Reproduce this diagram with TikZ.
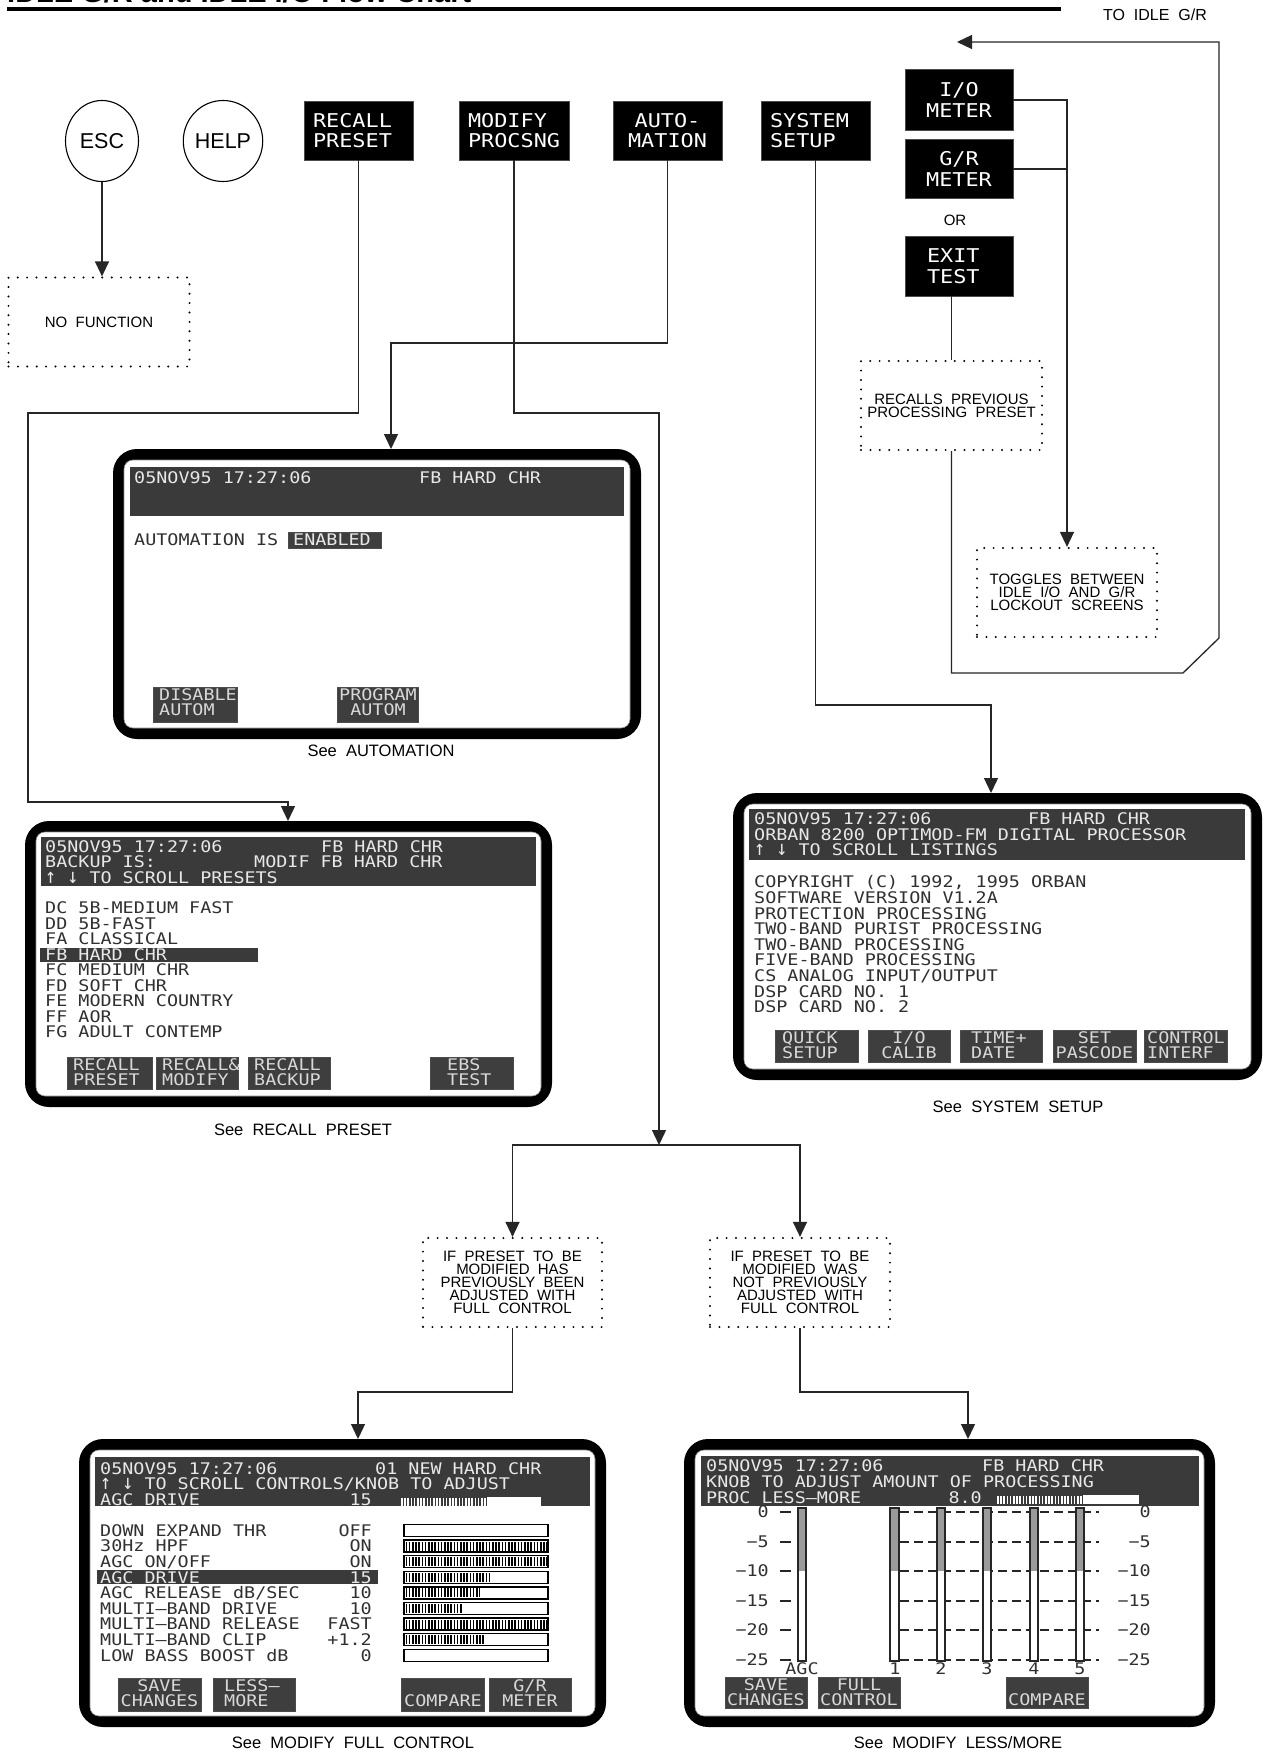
\documentclass[tikz,border=0pt]{standalone}
\usepackage{graphicx}
\usepackage{fontspec}
\setmainfont{Liberation Sans}
\newfontfamily\lcdfont[FakeStretch=1.15]{DejaVu Sans Mono}
\newcommand\lcd{\lcdfont\fontsize{16}{15.6}\selectfont}
\newcommand\lcdbig{\lcdfont\fontsize{19}{20.5}\selectfont}
\newcommand\lblfont{\fontsize{16.5}{19}\selectfont}
\newcommand\dotfont{\fontsize{15}{13}\selectfont}
\usetikzlibrary{arrows.meta,shapes.geometric}
\definecolor{hdrgray}{HTML}{3A3A3A}
\definecolor{btngray}{HTML}{3E3E3E}
\definecolor{lcdlight}{HTML}{E8E8E8}
\definecolor{btntext}{HTML}{D8D8D8}
\definecolor{lcddark}{HTML}{303030}
\definecolor{metergray}{HTML}{9A9A9A}
\newcounter{txtn}
\tikzset{
  conn/.style={draw=black!85, line width=1.3pt},
  arr/.style={conn, -{Triangle[length=15pt,width=14pt]}},
  dotbox/.style={draw=black, line width=2.2pt, dash pattern=on 0pt off 9.4pt, line cap=round, inner sep=0pt, align=center, font=\dotfont},
  keybox/.style={rectangle, fill=black, draw=black!70, line width=0.8pt, inner xsep=9pt, inner ysep=0pt, text=white, font=\lcdbig},
  lcdt/.style={inner sep=0pt, text height=11.7pt, text depth=0pt, font=\lcd, anchor=west},
  btnbox/.style={fill=btngray, draw=black!70, line width=0.8pt},
  scrbox/.style={rectangle, fill=black, rounded corners=24pt, inner sep=0pt, draw=none},
  lbl/.style={font=\lblfont, inner sep=0pt},
  stripes/.style={line width=9pt, dash pattern=on 1.6pt off 1.6pt, draw=black},
  dashline/.style={draw=black!85, line width=1.3pt, dash pattern=on 9pt off 5pt},
  tickline/.style={draw=black!85, line width=1.3pt},
}
\newcommand\scrdark[3]{\stepcounter{txtn}\node[lcdt,text=lcddark] (t\arabic{txtn}) at (#1,#2) {#3};}
\newcommand\scrlight[3]{\stepcounter{txtn}\node[lcdt,text=lcdlight] (t\arabic{txtn}) at (#1,#2) {#3};}
\newcommand\scrval[3]{\stepcounter{txtn}\node[lcdt,anchor=east,text=lcddark] (t\arabic{txtn}) at (#1,#2) {#3};}
\newcommand\scrvallight[3]{\stepcounter{txtn}\node[lcdt,anchor=east,text=lcdlight] (t\arabic{txtn}) at (#1,#2) {#3};}
\newcommand\scrbtn[8]{%
  \filldraw[btnbox] (#1,#2) rectangle (#3,#4);
  \stepcounter{txtn}\node[lcdt,anchor=#5,text=btntext] (t\arabic{txtn}) at (#6,#2+8) {#7};
  \stepcounter{txtn}\node[lcdt,anchor=#5,text=btntext] (t\arabic{txtn}) at (#6,#2+23) {#8};
}
\newcommand\scrframe[5]{%
  \pgfmathsetmacro\scrw{#4-#2}\pgfmathsetmacro\scrh{#5-#3}%
  \node[scrbox, minimum width=\scrw pt, minimum height=\scrh pt] (#1) at ({(#2+#4)/2},{(#3+#5)/2}) {};
  \fill[white, rounded corners=9pt] (#2+11,#3+11) rectangle (#4-11,#5-11);
  \draw[black!45, line width=0.6pt, rounded corners=9pt] (#2+11,#3+11) rectangle (#4-11,#5-11);
}
\newcommand\uar{\scalebox{1}[1.3]{↑}}
\newcommand\dar{\scalebox{1}[1.3]{↓}}
\begin{document}
\begin{tikzpicture}[x=1pt,y=-1pt]
\useasboundingbox (0,0) rectangle (1267,1752);
\fill[white] (0,0) rectangle (1267,1752);

% ---------- title (cut off at the top edge, as in the reference) ----------
\node[anchor=base west, inner sep=0pt, font=\fontsize{29}{30}\selectfont\bfseries] (title) at (7,2.5) {IDLE G/R and IDLE I/O Flow Chart};
\draw[line width=3.4pt] (7,9) -- (1061,9);
\node[font=\fontsize{16}{18}\selectfont, inner sep=0pt] (toidle) at (1155,15) {TO\ \ IDLE\ \ G/R};

% ---------- top row keys ----------
\node[draw, ellipse, line width=1.1pt, minimum width=73pt, minimum height=81pt, inner sep=0pt, font=\fontsize{21.5}{24}\selectfont] (esc) at (102,141) {ESC};
\node[draw, ellipse, line width=1.1pt, minimum width=73pt, minimum height=81pt, inner sep=0pt, font=\fontsize{21.5}{24}\selectfont] (help) at (223,141) {HELP};
\node[dotbox, minimum width=181pt, minimum height=89pt] (nofunc) at (99,322) {NO\ \ FUNCTION};

\node[keybox, minimum width=109pt, minimum height=59pt, text width=91pt, align=left] (recall) at (358.5,130.5) {RECALL\\PRESET};
\node[keybox, minimum width=110pt, minimum height=59pt, text width=92pt, align=left] (modify) at (514,130.5) {MODIFY\\PROCSNG};
\node[keybox, minimum width=109pt, minimum height=59pt, text width=91pt, align=center] (auto) at (667.5,130.5) {AUTO-\\MATION};
\node[keybox, minimum width=109pt, minimum height=59pt, text width=91pt, align=left] (sys) at (815.5,130.5) {SYSTEM\\SETUP};
\node[keybox, minimum width=108pt, minimum height=61pt, text width=90pt, align=center] (iom) at (959,100) {I/O\\METER};
\node[keybox, minimum width=108pt, minimum height=59pt, text width=90pt, align=center] (grm) at (959,169) {G/R\\METER};
\node[font=\fontsize{15}{17}\selectfont, inner sep=0pt] (or) at (955,220) {OR};
\node[keybox, inner xsep=22pt, minimum width=108pt, minimum height=60pt, text width=64pt, align=left] (exit) at (959,266) {EXIT\\TEST};

\node[dotbox, minimum width=181pt, minimum height=89pt] (recalls) at (951.5,405.5) {RECALLS\ \ PREVIOUS\\PROCESSING\ \ PRESET};
\node[dotbox, minimum width=180pt, minimum height=89pt] (toggles) at (1067,592.5) {TOGGLES\ \ BETWEEN\\IDLE\ \ I/O\ \ AND\ \ G/R\\LOCKOUT\ \ SCREENS};

% ---------- screens ----------
\scrframe{sAuto}{113}{449}{641}{739}
\scrframe{sRecall}{25}{821}{552}{1107}
\scrframe{sSys}{733}{793}{1262}{1080}
\scrframe{sFull}{79}{1439}{606}{1727}
\scrframe{sLess}{684}{1439}{1215}{1727}

% ---------- middle dotted boxes ----------
\node[dotbox, minimum width=179pt, minimum height=89pt] (ifA) at (512.5,1282.5) {IF\ \ PRESET\ \ TO\ \ BE\\MODIFIED\ \ HAS\\PREVIOUSLY\ \ BEEN\\ADJUSTED\ \ WITH\\FULL\ \ CONTROL};
\node[dotbox, minimum width=180pt, minimum height=89pt] (ifB) at (800,1282.5) {IF\ \ PRESET\ \ TO\ \ BE\\MODIFIED\ \ WAS\\NOT\ \ PREVIOUSLY\\ADJUSTED\ \ WITH\\FULL\ \ CONTROL};

% ---------- coordinates ----------
\coordinate (aTop) at (391,449);
\coordinate (rTop) at (288,821);
\coordinate (sTop) at (991,793);
\coordinate (split) at (659,1145);
\coordinate (fTop) at (358,1439);
\coordinate (lTop) at (968,1439);
\coordinate (idle) at (957,42);

% ---------- connectors ----------
\draw[arr] (esc.south) -- (esc.south |- nofunc.north);
\draw[arr] (recall.south) |- (28,413) -- (28,802) -| (rTop);
\draw[arr] (modify.south) |- (659,413) -- (split);
\draw[arr] (auto.south) |- (391,343) -- (aTop);
\draw[arr] (sys.south) |- (991,705) -- (sTop);
\draw[arr] (iom.east) -| (toggles.north);
\draw[conn] (grm.east) -- (grm.east -| toggles.north);
\draw[conn] (recalls.north |- exit.south) -- (recalls.north);
\draw[arr] (recalls.south) |- (1183,673) -- (1219,638) -- (1219,42) -- (idle);
\draw[arr] (split) -| (ifA.north);
\draw[arr] (split) -| (ifB.north);
\draw[arr] (ifA.south) -- ++(0,64) -| (fTop);
\draw[arr] (ifB.south) -- ++(0,64) -| (lTop);

% ---------- AUTOMATION screen ----------
\fill[hdrgray] (130,467) rectangle (624,516);
\scrlight{134}{478}{05NOV95 17:27:06}
\scrlight{419}{478}{FB HARD CHR}
\scrdark{134}{540}{AUTOMATION IS}
\filldraw[btnbox] (288,532) rectangle (381,548);
\scrlight{293}{540}{ENABLED}
\scrbtn{153}{687}{237}{722}{west}{159}{DISABLE}{AUTOM}
\scrbtn{337}{687}{418}{722}{center}{378}{PROGRAM}{AUTOM}
\node[lbl] (cAuto) at (381,751) {See\ \ AUTOMATION};

% ---------- RECALL PRESET screen ----------
\fill[hdrgray] (41,837) rectangle (536,886);
\scrlight{45}{847}{05NOV95 17:27:06}
\scrlight{321}{847}{FB HARD CHR}
\scrlight{45}{862}{BACKUP IS:}
\scrlight{254}{862}{MODIF FB HARD CHR}
\scrlight{45}{878}{\uar{} \dar{} TO SCROLL PRESETS}
\fill[hdrgray] (40,948) rectangle (258,962);
\scrdark{45}{908}{DC 5B-MEDIUM FAST}
\scrdark{45}{923.5}{DD 5B-FAST}
\scrdark{45}{939}{FA CLASSICAL}
\scrlight{45}{954.5}{FB HARD CHR}
\scrdark{45}{970}{FC MEDIUM CHR}
\scrdark{45}{985.5}{FD SOFT CHR}
\scrdark{45}{1001}{FE MODERN COUNTRY}
\scrdark{45}{1016.5}{FF AOR}
\scrdark{45}{1032}{FG ADULT CONTEMP}
\scrbtn{67}{1057}{152}{1089}{west}{73}{RECALL}{PRESET}
\scrbtn{156}{1057}{238}{1089}{west}{162}{RECALL\&}{MODIFY}
\scrbtn{248}{1057}{330}{1089}{west}{254}{RECALL}{BACKUP}
\scrbtn{430}{1057}{513}{1089}{west}{447}{EBS}{TEST}
\node[lbl] (cRecall) at (303,1130) {See\ \ RECALL\ \ PRESET};

% ---------- SYSTEM SETUP screen ----------
\fill[hdrgray] (749,809) rectangle (1245,860);
\scrlight{754}{819}{05NOV95 17:27:06}
\scrlight{1028}{819}{FB HARD CHR}
\scrlight{754}{835}{ORBAN 8200 OPTIMOD-FM DIGITAL PROCESSOR}
\scrlight{754}{850}{\uar{} \dar{} TO SCROLL LISTINGS}
\scrdark{754}{882}{COPYRIGHT (C) 1992, 1995 ORBAN}
\scrdark{754}{897.6}{SOFTWARE VERSION V1.2A}
\scrdark{754}{913.2}{PROTECTION PROCESSING}
\scrdark{754}{928.8}{TWO-BAND PURIST PROCESSING}
\scrdark{754}{944.4}{TWO-BAND PROCESSING}
\scrdark{754}{960}{FIVE-BAND PROCESSING}
\scrdark{754}{975.6}{CS ANALOG INPUT/OUTPUT}
\scrdark{754}{991.2}{DSP CARD NO. 1}
\scrdark{754}{1006.8}{DSP CARD NO. 2}
\scrbtn{775}{1030}{858}{1062}{west}{782}{QUICK}{SETUP}
\scrbtn{868}{1030}{950}{1062}{center}{909}{I/O}{CALIB}
\scrbtn{960}{1030}{1042}{1062}{west}{971}{TIME+}{DATE}
\scrbtn{1053}{1030}{1136}{1062}{center}{1094.5}{SET}{PASCODE}
\scrbtn{1144}{1030}{1227}{1062}{west}{1147}{CONTROL}{INTERF}
\node[lbl] (cSys) at (1018,1107) {See\ \ SYSTEM\ \ SETUP};

% ---------- MODIFY FULL CONTROL screen ----------
\fill[hdrgray] (95,1457) rectangle (590,1506);
\scrlight{100}{1468.5}{05NOV95 17:27:06}
\scrlight{375}{1468.5}{01 NEW HARD CHR}
\scrlight{100}{1484}{\uar{} \dar{} TO SCROLL CONTROLS/KNOB TO ADJUST}
\scrlight{100}{1499.5}{AGC DRIVE}
\scrvallight{372}{1499.5}{15}
\draw[white, line width=8pt, dash pattern=on 1.6pt off 1.6pt] (401,1501.5) -- (487,1501.5);
\fill[white] (487,1497) rectangle (541,1506);
\fill[hdrgray] (97,1570.3) rectangle (378,1584.3);
\scrdark{100}{1530.5}{DOWN EXPAND THR}\scrval{372}{1530.5}{OFF}
\scrdark{100}{1546.1}{30Hz HPF}\scrval{372}{1546.1}{ON}
\scrdark{100}{1561.7}{AGC ON/OFF}\scrval{372}{1561.7}{ON}
\scrlight{100}{1577.3}{AGC DRIVE}\scrvallight{372}{1577.3}{15}
\scrdark{100}{1592.9}{AGC RELEASE dB/SEC}\scrval{372}{1592.9}{10}
\scrdark{100}{1608.5}{MULTI—BAND DRIVE}\scrval{372}{1608.5}{10}
\scrdark{100}{1624.1}{MULTI—BAND RELEASE}\scrval{372}{1624.1}{FAST}
\scrdark{100}{1639.7}{MULTI—BAND CLIP}\scrval{372}{1639.7}{+1.2}
\scrdark{100}{1655.3}{LOW BASS BOOST dB}\scrval{372}{1655.3}{0}
\foreach \i/\fx in {0/0, 1/1, 2/1, 3/0.6, 4/0.53, 5/0.4, 6/1, 7/0.56, 8/0} {
  \pgfmathsetmacro\yy{1530.5+\i*15.6}
  \filldraw[fill=white, draw=black, line width=1.4pt] (404,\yy-6) rectangle (548,\yy+6);
  \ifdim\fx pt>0pt \draw[stripes] (405.5,\yy) -- ({405.5+\fx*141},\yy); \fi
}
\scrbtn{118}{1678}{201}{1711}{center}{159.5}{SAVE}{CHANGES}
\scrbtn{213}{1678}{295}{1711}{west}{224}{LESS—}{MORE}
\scrbtn{401}{1678}{484}{1711}{west}{404}{}{COMPARE}
\scrbtn{489}{1678}{571}{1711}{center}{530}{G/R}{METER}
\node[lbl] (cFull) at (353,1743) {See\ \ MODIFY\ \ FULL\ \ CONTROL};

% ---------- MODIFY LESS/MORE screen ----------
\fill[hdrgray] (701,1456) rectangle (1199,1506);
\scrlight{706}{1465.5}{05NOV95 17:27:06}
\scrlight{982}{1465.5}{FB HARD CHR}
\scrlight{706}{1482}{KNOB TO ADJUST AMOUNT OF PROCESSING}
\scrlight{706}{1498}{PROC LESS—MORE}
\scrvallight{982}{1498}{8.0}
\draw[white, line width=8pt, dash pattern=on 1.6pt off 1.6pt] (997,1499.5) -- (1083,1499.5);
\fill[white] (1083,1495) rectangle (1139,1504);
\foreach \yy/\lab in {1512/0, 1542/−5, 1571/−10, 1601/−15, 1630/−20, 1660/−25} {
  \draw[dashline] (900,\yy) -- (1099,\yy);
  \draw[tickline] (780,\yy) -- (791,\yy);
  \node[lcdt, anchor=east, text=lcddark] at (769,\yy) {\lab};
  \node[lcdt, anchor=east, text=lcddark] at (1151,\yy) {\lab};
}
\foreach \xl/\xr in {798/806, 890/899, 937/945, 983/991, 1030/1038, 1076/1084} {
  \fill[white] (\xl,1508) rectangle (\xr,1661);
  \fill[metergray] (\xl,1508) rectangle (\xr,1571);
  \draw[black!85, line width=1.2pt] (\xl,1508) rectangle (\xr,1661);
}
\foreach \xc/\lab in {802/AGC, 895/1, 941/2, 987/3, 1034/4, 1080/5} {
  \node[lcdt, anchor=center, text=lcddark] at (\xc,1669) {\lab};
}
\scrbtn{725}{1677}{807}{1708}{center}{766}{SAVE}{CHANGES}
\scrbtn{818}{1677}{900}{1708}{center}{859}{FULL}{CONTROL}
\scrbtn{1006}{1677}{1088}{1708}{center}{1047}{}{COMPARE}
\node[lbl] (cLess) at (958,1743) {See\ \ MODIFY\ \ LESS/MORE};
\end{tikzpicture}
\end{document}
